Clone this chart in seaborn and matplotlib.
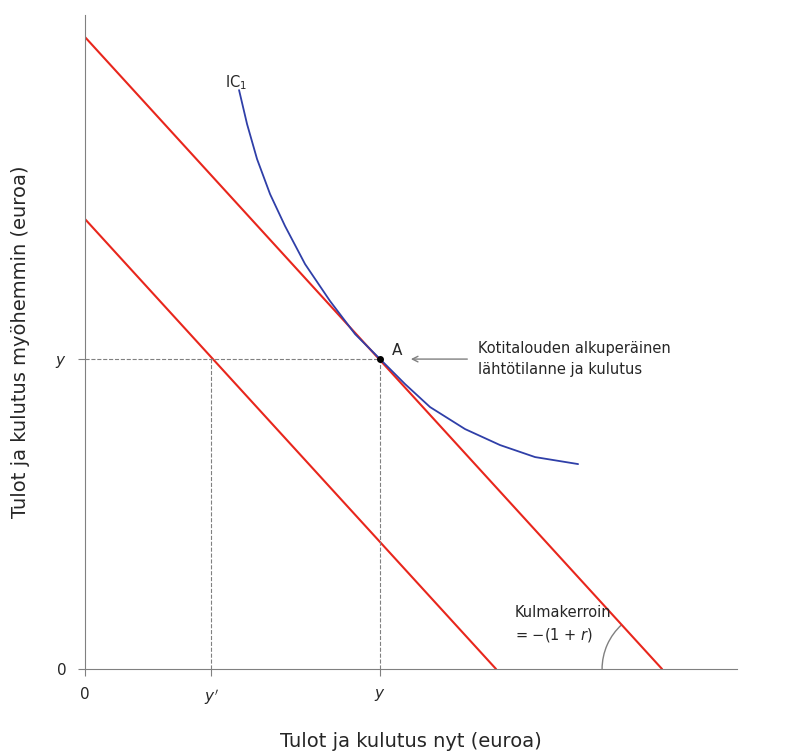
import numpy as np
import matplotlib.pyplot as plt
import seaborn as sns
from matplotlib.patches import Arc

plt.rcParams['font.family'] = 'Lato'
sns.set_style('white')

# budget lines (x-intercept, y-intercept)
bl_high = [(0, 632), (577, 0)]
bl_low = [(0, 450), (411, 0)]
# indifference curve IC1
ic_x = [154, 162, 172, 185, 200, 220, 245, 270, 295, 320, 345, 380, 415, 450, 493]
ic_y = [579, 545, 510, 475, 443, 405, 368, 335, 310, 285, 262, 240, 224, 212, 205]
point_a = (295, 310)
y_prime = 126

red = '#e8261c'
blue = '#2f3fa8'

fig = plt.figure(figsize=(8.1, 7.56), dpi=100)
ax = fig.add_axes([0.105, 0.115, 0.805, 0.865])

sns.lineplot(x=[p[0] for p in bl_high], y=[p[1] for p in bl_high], color=red, lw=1.5, ax=ax)
sns.lineplot(x=[p[0] for p in bl_low], y=[p[1] for p in bl_low], color=red, lw=1.5, ax=ax)
sns.lineplot(x=ic_x, y=ic_y, color=blue, lw=1.3, ax=ax, sort=False)

ax.plot([0, point_a[0]], [point_a[1]] * 2, ls='--', color='grey', lw=0.8)
ax.plot([point_a[0]] * 2, [0, point_a[1]], ls='--', color='grey', lw=0.8)
ax.plot([y_prime] * 2, [0, point_a[1]], ls='--', color='grey', lw=0.8)
ax.plot(*point_a, 'o', color='black', ms=4, zorder=5)

ax.text(point_a[0] + 12, point_a[1] + 4, 'A', fontsize=11)
ax.annotate('', xy=(point_a[0] + 28, point_a[1]), xytext=(385, 310),
            arrowprops=dict(arrowstyle='->', color='grey', lw=1))
ax.text(393, 310, 'Kotitalouden alkuperäinen\nlähtötilanne ja kulutus',
        fontsize=10.5, va='center', linespacing=1.5)
ax.text(140, 582, 'IC$_1$', fontsize=10.5)
ax.text(430, 30, 'Kulmakerroin\n= −(1 + $r$)', fontsize=10.5, linespacing=1.4)
ax.add_patch(Arc((577, 0), 120, 120, theta1=132, theta2=180, color='grey', lw=1))

ax.set_xlim(0, 652)
ax.set_ylim(0, 654)
ax.set_xticks([0, y_prime, point_a[0]])
ax.set_xticklabels(['0', "$y'$", '$y$'], fontsize=11)
ax.set_yticks([0, point_a[1]])
ax.set_yticklabels(['0', '$y$'], fontsize=11)
ax.tick_params(length=5, color='grey', direction='out', pad=8, bottom=True, left=True)
for s in ['top', 'right']:
    ax.spines[s].set_visible(False)
for s in ['left', 'bottom']:
    ax.spines[s].set_color('grey')
ax.set_xlabel('Tulot ja kulutus nyt (euroa)', fontsize=14, labelpad=18)
ax.set_ylabel('Tulot ja kulutus myöhemmin (euroa)', fontsize=14, labelpad=18)

fig.savefig('out.png', dpi=100)
